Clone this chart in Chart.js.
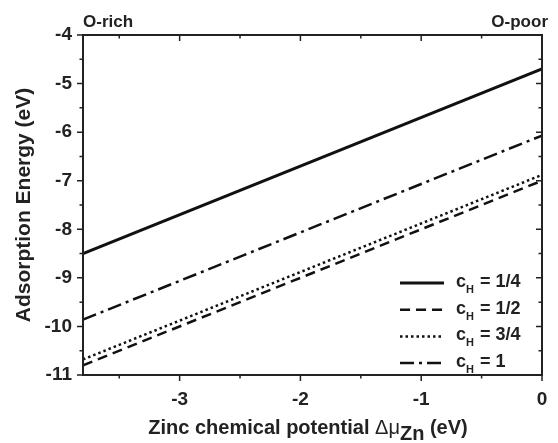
<!DOCTYPE html>
<html>
<head>
<meta charset="utf-8">
<script src="https://cdn.jsdelivr.net/npm/chart.js@4/dist/chart.umd.min.js"></script>
<style>
  body { margin: 0; background: #fff; }
  #wrap { width: 558px; height: 443px; }
</style>
</head>
<body>
<div id="wrap"><canvas id="c" width="558" height="443"></canvas></div>
<script>
// chemical potential endpoints (eV)
const muZn = [-3.8, 0];
// adsorption energy for each H coverage
const cQuarter = [-8.5, -4.7];
const cHalf = [-10.8, -7.0];
const cThreeQuarter = [-10.68, -6.88];
const cOne = [-9.86, -6.07];
const legendLabels = ['1/4', '1/2', '3/4', '1'];

const FONT = 'Liberation Sans, Arial, sans-serif';

const toPoints = ys => muZn.map((x, i) => ({ x: x, y: ys[i] }));

const styles = [
  { dash: [], width: 3 },
  { dash: [10, 6], width: 2.5 },
  { dash: [2.5, 3], width: 2.5 },
  { dash: [14, 5, 3, 5], width: 2.5 },
];
const series = [cQuarter, cHalf, cThreeQuarter, cOne];

// frame, minor ticks, legend and x title with subscript
const decor = {
  id: 'decor',
  afterDraw(chart) {
    const ctx = chart.ctx;
    const a = chart.chartArea;
    const xs = chart.scales.x, ys = chart.scales.y;
    ctx.save();
    ctx.strokeStyle = '#222';
    ctx.lineWidth = 2;
    ctx.setLineDash([]);
    ctx.strokeRect(a.left, a.top, a.right - a.left, a.bottom - a.top);

    ctx.lineWidth = 1.5;
    for (let v = -3.5; v <= 0.001; v += 0.5) {
      const px = xs.getPixelForValue(v);
      const major = Math.abs(v - Math.round(v)) < 1e-6;
      const len = major ? 6 : 3.5;
      ctx.beginPath();
      ctx.moveTo(px, a.bottom); ctx.lineTo(px, a.bottom + len);
      ctx.moveTo(px, a.top); ctx.lineTo(px, a.top + len);
      ctx.stroke();
    }
    for (let v = -11; v <= -4; v += 0.5) {
      const py = ys.getPixelForValue(v);
      const major = Math.abs(v - Math.round(v)) < 1e-6;
      const len = major ? 6 : 3.5;
      ctx.beginPath();
      ctx.moveTo(a.left, py); ctx.lineTo(a.left - len, py);
      ctx.moveTo(a.right, py); ctx.lineTo(a.right - len, py);
      ctx.stroke();
    }

    // legend
    ctx.fillStyle = '#222';
    ctx.textBaseline = 'middle';
    legendLabels.forEach((lab, i) => {
      const y = 283 + i * 26.7;
      ctx.strokeStyle = '#111';
      ctx.lineWidth = styles[i].width;
      ctx.setLineDash(styles[i].dash);
      ctx.beginPath();
      ctx.moveTo(400, y); ctx.lineTo(444, y);
      ctx.stroke();
      ctx.setLineDash([]);
      ctx.textAlign = 'left';
      ctx.font = 'bold 18px ' + FONT;
      ctx.fillText('c', 456, y - 1);
      ctx.font = 'bold 11px ' + FONT;
      ctx.fillText('H', 466, y + 7);
      ctx.font = 'bold 18px ' + FONT;
      ctx.fillText('= ' + lab, 480, y - 1);
    });

    // top labels
    ctx.font = 'bold 17px ' + FONT;
    ctx.textBaseline = 'alphabetic';
    ctx.textAlign = 'left';
    ctx.fillText('O-rich', 83, 27);
    ctx.textAlign = 'right';
    ctx.fillText('O-poor', 548, 27);

    // x axis title
    const y0 = 437;
    ctx.textAlign = 'left';
    const t1 = 'Zinc chemical potential ';
    const t2 = '\u0394\u03bc';
    const t3 = 'Zn';
    const t4 = ' (eV)';
    ctx.font = 'bold 20px ' + FONT;
    const w1 = ctx.measureText(t1).width;
    ctx.font = '20px ' + FONT;
    const w2 = ctx.measureText(t2).width;
    ctx.font = 'bold 20px ' + FONT;
    const w3 = ctx.measureText(t3).width;
    const w4 = ctx.measureText(t4).width;
    let x = 308 - (w1 + w2 + w3 + w4) / 2;
    ctx.fillText(t1, x, y0 - 3); x += w1;
    ctx.font = '20px ' + FONT;
    ctx.fillText(t2, x, y0 - 3); x += w2;
    ctx.font = 'bold 20px ' + FONT;
    ctx.fillText(t3, x, y0 + 3); x += w3;
    ctx.fillText(t4, x, y0 - 3);
    ctx.restore();
  }
};

new Chart(document.getElementById('c'), {
  type: 'scatter',
  data: {
    datasets: series.map((s, i) => ({
      label: 'cH = ' + legendLabels[i],
      data: toPoints(s),
      showLine: true,
      borderColor: '#111',
      borderWidth: styles[i].width,
      borderDash: styles[i].dash,
      pointRadius: 0,
      fill: false,
    })),
  },
  options: {
    responsive: false,
    animation: false,
    layout: { padding: { left: 0, right: 16, top: 35, bottom: 0 } },
    plugins: { legend: { display: false }, tooltip: { enabled: false } },
    scales: {
      x: {
        type: 'linear',
        min: -3.8,
        max: 0,
        grid: { display: false },
        border: { display: false },
        afterFit: s => { s.height = 68; },
        ticks: {
          stepSize: 0.5,
          padding: 5,
          color: '#222',
          font: { family: FONT, size: 19, weight: 'bold' },
          callback: v => Number.isInteger(v) ? String(v) : '',
        },
      },
      y: {
        min: -11,
        max: -4,
        grid: { display: false },
        border: { display: false },
        afterFit: s => { s.width = 83; },
        title: {
          display: true,
          text: 'Adsorption Energy (eV)',
          color: '#222',
          font: { family: FONT, size: 21, weight: 'bold' },
          padding: { top: 12, bottom: 0 },
        },
        ticks: {
          stepSize: 0.5,
          padding: 3,
          color: '#222',
          font: { family: FONT, size: 19, weight: 'bold' },
          callback: v => Number.isInteger(v) ? String(v) : '',
        },
      },
    },
  },
  plugins: [decor],
});
</script>
</body>
</html>
